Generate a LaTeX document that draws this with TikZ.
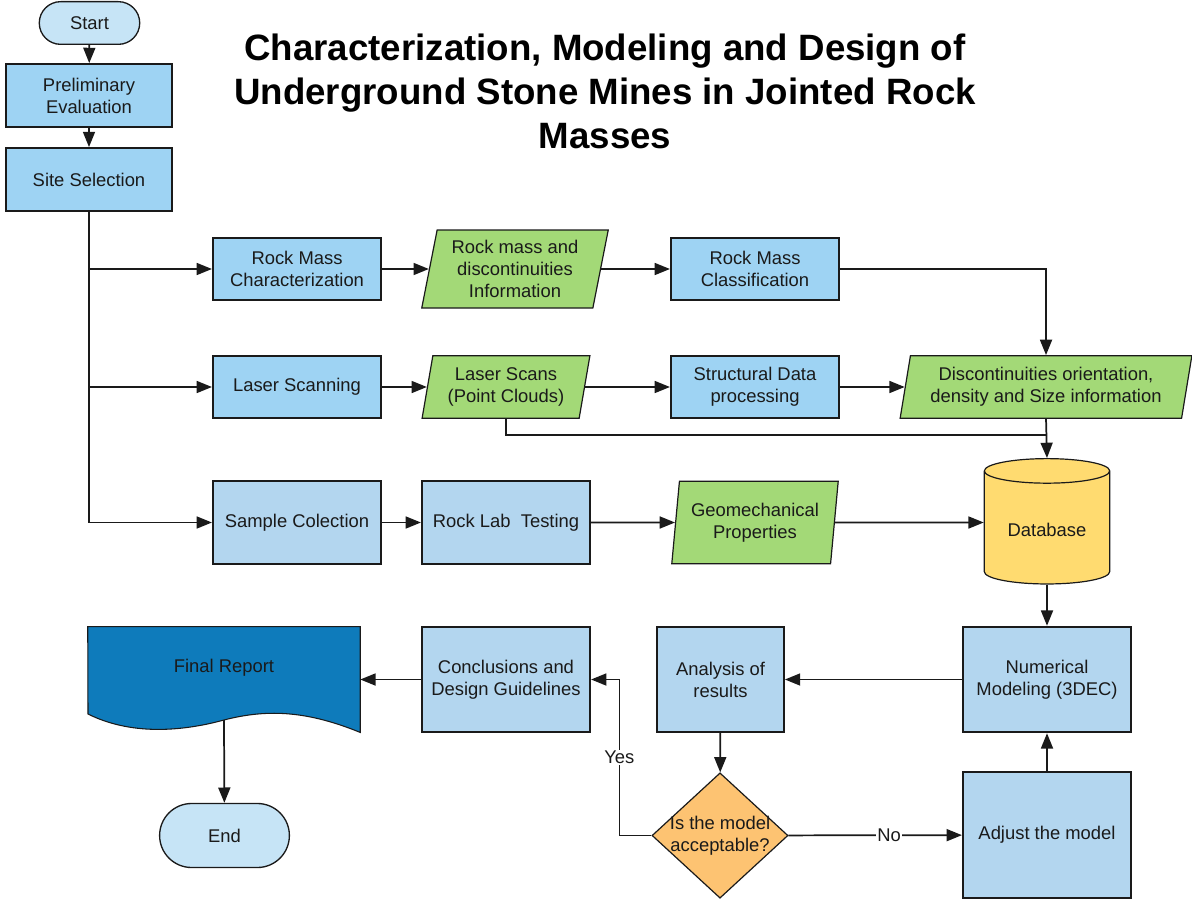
\documentclass[tikz,border=0pt]{standalone}
\usepackage{fontspec}
\setmainfont{Liberation Sans}
\usetikzlibrary{arrows.meta,shapes.geometric,shapes.misc}

\definecolor{pillblue}{HTML}{C6E4F6}
\definecolor{skyblue}{HTML}{9ED3F3}
\definecolor{paleblue}{HTML}{B3D6EF}
\definecolor{leafgreen}{HTML}{A3D977}
\definecolor{dbyellow}{HTML}{FFDB70}
\definecolor{qorange}{HTML}{FDC372}
\definecolor{reportblue}{HTML}{0E7BBB}
\definecolor{ink}{HTML}{1A1A1A}

\begin{document}
\begin{tikzpicture}[x=0.75pt, y=-0.75pt,
    every node/.style={font=\fontsize{13.8}{16.5}\selectfont, text=ink, align=center},
    my box/.style={draw=ink, line width=1.6pt, fill=skyblue,
      minimum width=126pt, minimum height=46.5pt, inner sep=2pt},
    my pale box/.style={my box, fill=paleblue},
    my data/.style={trapezium, trapezium left angle=78, trapezium right angle=102,
      trapezium stretches=true, draw=ink, line width=0.9pt, fill=leafgreen, inner sep=1pt},
    my pill/.style={rounded rectangle, draw=ink, line width=1pt, fill=pillblue},
    my arrow/.style={draw=ink, line width=1.3pt, -{Triangle[length=11.5pt,width=9pt]}},
  ]
  \useasboundingbox (0,0) rectangle (1192,899);

  \node[font=\fontsize{27.5}{33}\selectfont\bfseries, text=black] (title) at (605,91)
    {Characterization, Modeling and Design of\\Underground Stone Mines in Jointed Rock\\Masses};

  \node[my pill, minimum width=82pt, minimum height=32pt] (start) at (89.5,23) {Start};
  \node[my box, minimum width=125pt, minimum height=47pt] (prelim) at (89,95.5) {Preliminary\\Evaluation};
  \node[my box, minimum width=125pt, minimum height=47pt] (site) at (89,179.5) {Site Selection};

  \node[my box] (rmc) at (297,269) {Rock Mass\\Characterization};
  \node[my data, minimum width=140pt, minimum height=58.5pt] (rmi) at (515,269) {Rock mass and\\discontinuities\\Information};
  \node[my box] (rmcl) at (755,269) {Rock Mass\\Classification};

  \node[my box] (lscan) at (297,387) {Laser Scanning};
  \node[my data, minimum width=126pt, minimum height=47pt] (lscans) at (506,387) {Laser Scans\\(Point Clouds)};
  \node[my box] (sdp) at (755,387) {Structural Data\\processing};
  \node[my data, minimum width=219pt, minimum height=47pt] (disc) at (1046,387) {Discontinuities orientation,\\density and Size information};

  \node[my pale box, minimum height=62pt] (samp) at (297,522.5) {Sample Colection};
  \node[my pale box, minimum height=62pt] (lab) at (506,522.5) {Rock Lab\ \ Testing};
  \node[my data, trapezium left angle=81, trapezium right angle=99, minimum width=125pt, minimum height=62pt] (geo) at (755,522.5) {Geomechanical\\Properties};
  \node[cylinder, shape border rotate=90, aspect=0.28, draw=ink, line width=0.9pt, fill=dbyellow,
    minimum width=94pt, minimum height=94pt] (db) at (1047,530) {Database};

  \node[my pale box, minimum height=79pt] (num) at (1047,679.5) {Numerical\\Modeling (3DEC)};
  \node[my pale box, minimum width=95pt, minimum height=79pt] (ana) at (720.5,679.5) {Analysis of\\results};
  \node[my pale box, minimum height=79pt] (con) at (506,679.5) {Conclusions and\\Design Guidelines};
  \node[diamond, draw=ink, line width=0.9pt, fill=qorange, inner sep=-6pt,
    minimum width=102pt, minimum height=94pt] (dec) at (720,835.5) {Is the model\\acceptable?};
  \node[my pale box, minimum height=94.5pt] (adj) at (1047,835) {Adjust the model};

  % report sheet with wavy lower edge
  \node[minimum width=204pt, minimum height=79pt, inner sep=0pt] (rep) at (224,679.5) {};
  \filldraw[fill=reportblue, draw=ink, line width=0.8pt] (rep.north west) -- (rep.north east) -- (rep.south east)
    .. controls (310,712) and (270,708) .. (224,720) coordinate (repb)
    .. controls (180,732) and (130,735) .. (88,714) -- cycle;
  \node (reptext) at (224,668) {Final Report};
  \node[my pill, minimum width=104pt, minimum height=48pt] (end) at (224.5,835.5) {End};

  \draw[my arrow] (start) -- (prelim);
  \draw[my arrow] (prelim) -- (site);
  \draw[my arrow] (site.south) |- (rmc.west);
  \draw[my arrow] (site.south) |- (lscan.west);
  \draw[my arrow] (site.south) |- (samp.west);

  \draw[my arrow] (rmc) -- (rmi);
  \draw[my arrow] (rmi) -- (rmcl);
  \draw[my arrow] (rmcl.east) -| (disc.north);
  \draw[my arrow] (lscan) -- (lscans);
  \draw[my arrow] (lscans) -- (sdp);
  \draw[my arrow] (sdp) -- (disc);
  \coordinate (join) at (1047,435);
  \draw[draw=ink, line width=1.3pt] (lscans.south) |- (join);
  \draw[my arrow] (disc.south) -- (db.north);

  \draw[my arrow] (samp) -- (lab);
  \draw[my arrow] (lab) -- (geo);
  \draw[my arrow] (geo) -- (geo -| db.west);
  \draw[my arrow] (db) -- (num);
  \draw[my arrow] (num) -- (ana);
  \draw[my arrow] (ana) -- (dec);
  \draw[my arrow] (dec) -- node[pos=0.58, fill=white, inner sep=1pt] (nolbl) {No} (adj);
  \draw[my arrow] (adj) -- (num);
  \draw[my arrow] (dec.west) -- ++(-32,0) -- node[fill=white, inner sep=1pt] (yeslbl) {Yes} ++(0,-156) -- (con.east);
  \draw[my arrow] (con) -- (rep);
  \draw[my arrow] (repb) -- (end);
\end{tikzpicture}
\end{document}
